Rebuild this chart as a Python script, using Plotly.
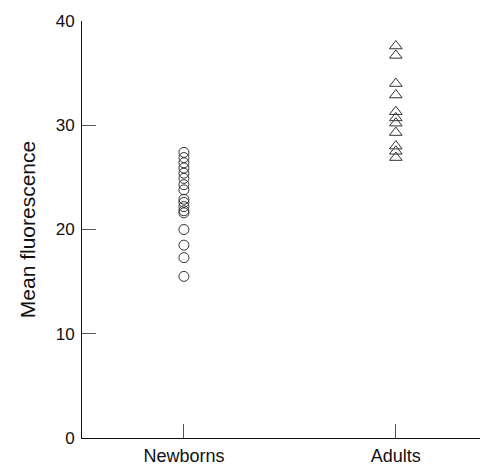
import plotly.graph_objects as go

categories = ["Newborns", "Adults"]
newborns = [27.4, 26.9, 26.4, 25.9, 25.4, 24.9, 24.3, 23.8, 22.9, 22.6, 22.2, 21.8, 21.6, 20.0, 18.5, 17.3, 15.5]
adults = [37.6, 36.7, 34.0, 32.9, 31.3, 30.7, 30.2, 29.3, 28.0, 27.5, 26.9]
y_ticks = [0, 10, 20, 30, 40]

fig = go.Figure()
fig.add_trace(go.Scatter(
    x=[0] * len(newborns), y=newborns, mode="markers",
    marker=dict(symbol="circle-open", size=10, color="#333333", line=dict(width=1)),
    showlegend=False, cliponaxis=False))
fig.add_trace(go.Scatter(
    x=[1] * len(adults), y=adults, mode="markers",
    marker=dict(symbol="triangle-up-open", size=11, color="#333333", line=dict(width=1)),
    showlegend=False, cliponaxis=False))

# page body has an 8px margin, so the figure is 8px smaller and margins shifted
fig.update_layout(
    width=480, height=458,
    margin=dict(l=74, r=0, t=13, b=25),
    paper_bgcolor="white", plot_bgcolor="white",
    font=dict(family="Liberation Sans, Arial, sans-serif", size=17, color="#111111"),
    xaxis=dict(range=[-0.481, 1.435], tickvals=[0, 1], ticktext=categories,
               showline=True, linecolor="#111111", linewidth=1,
               ticks="inside", ticklen=14, tickcolor="#555555",
               ticklabelstandoff=1, tickfont=dict(size=18),
               showgrid=False, zeroline=False),
    yaxis=dict(range=[0, 40], tickvals=y_ticks,
               showline=True, linecolor="#111111", linewidth=1,
               ticks="inside", ticklen=14, tickcolor="#555555",
               ticklabelstandoff=3, tickfont=dict(size=17),
               showgrid=False, zeroline=False,
               title=dict(text="Mean fluorescence", font=dict(size=21), standoff=14)),
)

fig.write_html("out.html")
